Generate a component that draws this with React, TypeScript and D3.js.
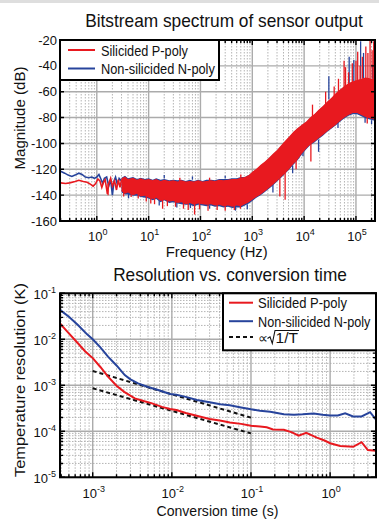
import { useRef, useEffect } from 'react';
import * as d3 from 'd3';

const W = 379;
const H = 519;
const RED = '#e8191f';
const BLUE = '#27449c';
const GRID = '#ababab';
const FONT = '"Liberation Sans", Arial, Helvetica, sans-serif';

// ---------- top chart: bitstream spectrum ----------
const FREQ_TICKS = [1, 10, 100, 1000, 10000, 100000];
const FREQ_EXP = ['0', '1', '2', '3', '4', '5'];
const MAG_TICKS = [-20, -40, -60, -80, -100, -120, -140, -160];

// thin part of the spectra below ~3 Hz
const lowRedF = [0.2, 0.25, 0.3, 0.38, 0.45, 0.55, 0.65, 0.75, 0.85, 0.95, 1.05, 1.15, 1.25, 1.35, 1.45, 1.6, 1.7, 1.85, 2.0, 2.2, 2.4, 2.6, 2.8, 3.0];
const lowRedDb = [-130.5, -131, -130.5, -129.5, -128.5, -129.5, -130, -131.5, -133, -131, -127.5, -129, -134, -130, -128, -139, -131, -127, -133, -129, -136, -128, -134, -128];
const lowBlueF = [0.2, 0.24, 0.28, 0.33, 0.38, 0.45, 0.52, 0.6, 0.7, 0.8, 0.9, 1.0, 1.1, 1.2, 1.3, 1.4, 1.55, 1.7, 1.85, 2.0, 2.15, 2.3, 2.5, 2.7, 3.0];
const lowBlueDb = [-121.5, -123, -124.5, -125.5, -124.5, -123, -124, -126, -126.5, -126, -127, -126, -124, -127.5, -131, -127, -126, -133, -128, -140, -129, -126, -132, -127, -129];

// dense noise band: upper / lower envelope
const bandF = [3, 3.5, 4, 5, 6, 7, 8.5, 10, 12, 14, 17, 20, 25, 30, 36, 43, 52, 62, 75, 90, 110, 130, 160, 190, 230, 280, 340, 410, 500, 600, 720, 860, 1000, 1200, 1450, 1750, 2100, 2500, 3000, 3600, 4300, 5200, 6200, 7500, 9000, 11000, 13000, 16000, 19000, 23000, 28000, 34000, 41000, 50000, 60000, 72000, 87000, 105000, 127000, 153000, 185000, 230000];
const redTop = [-127, -125.5, -127.5, -126.5, -128, -127, -128, -127.5, -128.5, -127.5, -129, -128, -129, -128.5, -129.5, -128.5, -129.5, -129, -129.5, -128.5, -129.5, -129, -128.5, -129, -128, -128.5, -128, -127.5, -127.5, -126.5, -126, -124.5, -122, -119.5, -116.5, -114, -111, -108, -105, -101.5, -98, -94.5, -91, -88, -85.5, -83, -80, -77, -74, -71, -67.5, -64.5, -61, -58, -55.5, -53.5, -52, -51, -50, -49, -49.5, -50.5];
const redBot = [-137, -139, -138, -140, -139, -141, -140.5, -142, -143, -142, -144.5, -143.5, -145, -144.5, -146, -145.5, -147, -146, -147.5, -146.5, -147, -147.5, -147, -148, -147.5, -148.5, -148, -149, -148, -148.5, -147, -145.5, -143.5, -141.5, -139.5, -137, -134.5, -132, -129, -126, -123, -119.5, -116, -112.5, -108, -104, -101, -98.5, -96, -93.5, -90.5, -88, -85.5, -82.5, -80, -78, -76.5, -76.5, -78, -79.5, -80.5, -81.5];
const blueTop = [-126.5, -125, -127, -126, -127.5, -126.5, -127.5, -127, -128, -127, -128, -127.5, -128.5, -128, -128.5, -128, -129, -128, -129, -128, -129, -128, -128, -128.5, -127.5, -127.5, -127.5, -127, -127, -126, -126, -124.5, -122.5, -120, -117, -114.5, -111.5, -108.5, -105.5, -102, -98.5, -95, -91.5, -88.5, -86, -83.5, -80.5, -77.5, -74.5, -71.5, -68, -65, -61.5, -58.5, -56, -54, -52.5, -51.5, -50.5, -49.5, -50, -51];
const blueBot = [-138, -139.5, -139.5, -140.5, -140.5, -141.5, -142, -142.5, -144, -143, -145.5, -144, -146, -145.5, -146.5, -147, -147.5, -147.5, -148.5, -147.5, -148, -148.5, -148, -149, -148.5, -149.5, -149, -150, -149.5, -149.5, -148, -146.5, -144.5, -142, -140, -137.5, -135, -132.5, -129.5, -126.5, -123.5, -120, -116.5, -113, -108.5, -104.5, -101.5, -99, -96.5, -94, -91, -88.5, -86, -83, -80.5, -78.5, -77.5, -77.5, -79, -80.5, -81.5, -82.5];

// single noise spikes: [frequency, from dB, to dB]
const redSpikes: [number, number, number][] = [
  [1.65, -131, -140], [3.3, -135, -141], [4.6, -136, -141.5], [6.3, -138, -142.5], [9, -140, -145],
  [11, -141, -146.5], [13, -141, -147], [18.6, -143, -150.5], [23, -144, -148.5], [33, -144, -149],
  [47, -145, -150.5], [58, -146, -151.5], [77, -146, -155], [96, -146, -151], [140, -147, -152],
  [210, -147, -151.5], [300, -148, -152], [450, -148, -151.5], [590, -148, -150.5], [3400, -127, -141],
  [4300, -122, -143.5], [7000, -112, -120], [13500, -100, -114], [165000, -79, -84.5],
  [40, -129, -126.5], [150, -129, -126.5], [600, -127, -124], [14500, -80, -70], [26000, -70, -60],
  [38000, -64, -56], [46000, -62, -50], [59000, -57, -36], [63000, -57, -41], [72000, -55, -45],
  [85000, -53, -38], [100000, -52, -36], [108000, -52, -29], [120000, -51, -40], [133000, -50, -33],
  [155000, -50, -25], [170000, -50, -30], [187000, -50, -20], [205000, -50, -28], [220000, -51, -21],
];
const blueSpikes: [number, number, number][] = [
  [4.1, -138, -142.5], [16, -144, -148], [35, -146, -149.5], [64, -147, -150], [150, -148, -150.5],
  [473, -149, -152], [800, -147, -151], [2500, -132, -138], [6000, -117, -123], [9500, -106, -110],
  [19000, -97, -106.5], [45000, -84, -88], [150000, -80, -84], [200000, -82, -85],
  [20, -127, -124.5], [70, -128, -125.5], [300, -127, -125],
  [30000, -66, -48], [74000, -54, -33], [91000, -52, -35.5], [123000, -50, -21], [140000, -50, -30],
  [210000, -50, -39],
];

// ---------- bottom chart: resolution vs conversion time ----------
const TIME_TICKS = [1e-3, 1e-2, 1e-1, 1];
const TIME_EXP = ['-3', '-2', '-1', '0'];
const RES_TICKS = [1e-1, 1e-2, 1e-3, 1e-4, 1e-5];
const RES_EXP = ['-1', '-2', '-3', '-4', '-5'];

const tRed = [3.9e-4, 5e-4, 6.5e-4, 8e-4, 1e-3, 1.25e-3, 1.56e-3, 2e-3, 2.5e-3, 3.4e-3, 4.5e-3, 5.5e-3, 7.5e-3, 0.0095, 0.0114, 0.015, 0.02, 0.03, 0.042, 0.054, 0.075, 0.1, 0.13, 0.158, 0.19, 0.26, 0.33, 0.4, 0.5, 0.68, 0.85, 1.0, 1.34, 1.95, 2.5, 3.0, 3.8];
const resRed = [0.0215, 0.0135, 8.2e-3, 5.5e-3, 3.9e-3, 2.5e-3, 1.54e-3, 9.8e-4, 7.2e-4, 5.2e-4, 4.5e-4, 4.1e-4, 3.4e-4, 3.05e-4, 2.9e-4, 2.5e-4, 2.2e-4, 1.85e-4, 1.7e-4, 1.56e-4, 1.45e-4, 1.32e-4, 1.27e-4, 1.22e-4, 1.1e-4, 1.08e-4, 9.5e-5, 8.0e-5, 9.3e-5, 7.3e-5, 6.3e-5, 5.5e-5, 4.8e-5, 4.6e-5, 5.8e-5, 3.9e-5, 3.8e-5];
const tBlue = [3.9e-4, 5e-4, 6.5e-4, 8.5e-4, 1e-3, 1.25e-3, 1.56e-3, 2e-3, 2.54e-3, 3.0e-3, 3.74e-3, 5e-3, 6.7e-3, 0.0095, 0.0114, 0.015, 0.0207, 0.03, 0.041, 0.054, 0.075, 0.1, 0.13, 0.175, 0.26, 0.35, 0.45, 0.62, 0.8, 1.0, 1.25, 1.55, 1.95, 2.5, 3.2, 3.8];
const resBlue = [0.043, 0.031, 0.0205, 0.0128, 0.01, 6.7e-3, 4.2e-3, 2.7e-3, 1.67e-3, 1.35e-3, 1.1e-3, 9.2e-4, 7.9e-4, 6.5e-4, 6.2e-4, 5.6e-4, 4.8e-4, 4.3e-4, 3.87e-4, 3.7e-4, 3.3e-4, 3.0e-4, 2.8e-4, 2.67e-4, 2.34e-4, 2.3e-4, 2.35e-4, 2.45e-4, 2.3e-4, 2.2e-4, 2.2e-4, 2.45e-4, 2.1e-4, 2.1e-4, 2.6e-4, 1.8e-4];
const fitT = [1e-3, 0.1];
const fitUpper = [2.05e-3, 1.98e-4];
const fitLower = [8.6e-4, 9.0e-5];

type Sel = d3.Selection<SVGGElement, unknown, null, undefined>;

function supLabel(g: Sel, x: number, y: number, exp: string, anchor: string) {
  const t = g.append('text')
    .attr('x', x).attr('y', y)
    .attr('text-anchor', anchor)
    .attr('font-size', 13)
    .attr('font-family', FONT)
    .attr('fill', '#111');
  t.append('tspan').text('10');
  t.append('tspan').attr('dy', -6).attr('font-size', 9).text(exp);
}

// text squeezed horizontally to a target width (the original font is narrow)
function narrowText(g: Sel, x: number, y: number, label: string, size: number, width: number, rotate = false, anchor = 'start') {
  const t = g.append('text')
    .attr('font-size', size).attr('font-family', FONT).attr('fill', '#111')
    .attr('text-anchor', anchor)
    .text(label);
  const natural = (t.node() as SVGTextElement).getComputedTextLength() || width;
  const k = width / natural;
  t.attr('transform', `translate(${x},${y})${rotate ? ' rotate(-90)' : ''} scale(${k},1)`);
}

function isDecade(v: number) {
  return Math.abs(Math.log10(v) - Math.round(Math.log10(v))) < 1e-6;
}

export default function App() {
  const svgRef = useRef<SVGSVGElement>(null);

  useEffect(() => {
    if (!svgRef.current) return;
    const svg = d3.select(svgRef.current);
    svg.selectAll('*').remove();

    svg.append('rect').attr('width', W).attr('height', H).attr('fill', '#fff');
    svg.append('rect').attr('width', W).attr('height', 3).attr('fill', '#dedede');

    const defs = svg.append('defs');

    // ===================== top chart =====================
    const A = { l: 60, r: 375, t: 40, b: 221 };
    const fx = d3.scaleLog().domain([0.195, 2.33e5]).range([A.l, A.r]);
    const fy = d3.scaleLinear().domain([-160, -20]).range([A.b, A.t]);
    const gA = svg.append('g');

    defs.append('clipPath').attr('id', 'clipA')
      .append('rect').attr('x', A.l).attr('y', A.t).attr('width', A.r - A.l).attr('height', A.b - A.t);

    const fTicks = fx.ticks();
    // grid
    gA.selectAll('.vminor').data(fTicks.filter((d) => !isDecade(d))).enter().append('line')
      .attr('x1', (d) => fx(d)).attr('x2', (d) => fx(d)).attr('y1', A.t).attr('y2', A.b)
      .attr('stroke', GRID).attr('stroke-width', 0.9).attr('stroke-dasharray', '1.5,1.5');
    gA.selectAll('.vmajor').data(FREQ_TICKS).enter().append('line')
      .attr('x1', (d) => fx(d)).attr('x2', (d) => fx(d)).attr('y1', A.t).attr('y2', A.b)
      .attr('stroke', GRID).attr('stroke-width', 1.4);
    gA.selectAll('.hmajor').data(MAG_TICKS).enter().append('line')
      .attr('x1', A.l).attr('x2', A.r).attr('y1', (d) => fy(d)).attr('y2', (d) => fy(d))
      .attr('stroke', GRID).attr('stroke-width', 1.4);

    const data = gA.append('g').attr('clip-path', 'url(#clipA)');
    const idx = d3.range(bandF.length);
    const band = (top: number[], bot: number[]) =>
      d3.area<number>().x((i) => fx(bandF[i])).y0((i) => fy(bot[i])).y1((i) => fy(top[i]))(idx);
    const lowLine = (f: number[], v: number[]) =>
      d3.line<number>().x((i) => fx(f[i])).y((i) => fy(v[i]))(d3.range(f.length));

    // blue first (mostly hidden), red on top
    data.append('path').attr('d', lowLine(lowBlueF, lowBlueDb)).attr('fill', 'none')
      .attr('stroke', BLUE).attr('stroke-width', 1.6);
    data.append('path').attr('d', band(blueTop, blueBot)).attr('fill', BLUE);
    data.selectAll('.bspike').data(blueSpikes).enter().append('line')
      .attr('x1', (d) => fx(d[0])).attr('x2', (d) => fx(d[0]))
      .attr('y1', (d) => fy(d[1])).attr('y2', (d) => fy(d[2]))
      .attr('stroke', BLUE).attr('stroke-width', 1.3);
    data.append('path').attr('d', lowLine(lowRedF, lowRedDb)).attr('fill', 'none')
      .attr('stroke', RED).attr('stroke-width', 1.6);
    data.append('path').attr('d', band(redTop, redBot)).attr('fill', RED);
    data.selectAll('.rspike').data(redSpikes).enter().append('line')
      .attr('x1', (d) => fx(d[0])).attr('x2', (d) => fx(d[0]))
      .attr('y1', (d) => fy(d[1])).attr('y2', (d) => fy(d[2]))
      .attr('stroke', RED).attr('stroke-width', 1.3);

    // frame + ticks
    gA.append('rect').attr('x', A.l).attr('y', A.t).attr('width', A.r - A.l).attr('height', A.b - A.t)
      .attr('fill', 'none').attr('stroke', '#000').attr('stroke-width', 2);
    gA.selectAll('.xt').data(fTicks).enter().append('path')
      .attr('d', (d) => {
        const len = isDecade(d) ? 5 : 3;
        const x = fx(d);
        return `M${x},${A.b}v${-len}M${x},${A.t}v${len}`;
      })
      .attr('stroke', '#000').attr('stroke-width', 1.4);
    gA.selectAll('.yt').data(MAG_TICKS).enter().append('path')
      .attr('d', (d) => `M${A.l},${fy(d)}h4M${A.r},${fy(d)}h-4`)
      .attr('stroke', '#000').attr('stroke-width', 1.4);

    // labels
    FREQ_TICKS.forEach((f, i) => supLabel(gA, fx(f) + 1, 240.5, FREQ_EXP[i], 'middle'));
    gA.selectAll('.ylab').data(MAG_TICKS).enter().append('text')
      .attr('x', 57).attr('y', (d) => fy(d) + 4.5)
      .attr('text-anchor', 'end').attr('font-size', 13).attr('font-family', FONT).attr('fill', '#111')
      .text((d) => d);
    narrowText(gA, 224, 27, 'Bitstream spectrum of sensor output', 18, 278, false, 'middle');
    narrowText(gA, 216.7, 256.5, 'Frequency (Hz)', 15, 102, false, 'middle');
    narrowText(gA, 24.5, 118, 'Magnitude (dB)', 15.5, 103, true, 'middle');

    // legend
    const legA = gA.append('g');
    legA.append('rect').attr('x', A.l).attr('y', A.t).attr('width', 159).attr('height', 40)
      .attr('fill', '#fff').attr('stroke', '#000').attr('stroke-width', 2);
    [
      { c: RED, label: 'Silicided P-poly', y: 50, w: 87 },
      { c: BLUE, label: 'Non-silicided N-poly', y: 68.5, w: 114 },
    ].forEach((e) => {
      legA.append('line').attr('x1', 68).attr('x2', 95).attr('y1', e.y).attr('y2', e.y)
        .attr('stroke', e.c).attr('stroke-width', 2);
      narrowText(legA, 101, e.y + 5.5, e.label, 15, e.w);
    });

    // ===================== bottom chart =====================
    const B = { l: 60, r: 376, t: 293.3, b: 477.3 };
    const tx = d3.scaleLog().domain([3.86e-4, 3.8]).range([B.l, B.r]);
    const ty = d3.scaleLog().domain([1e-5, 1e-1]).range([B.b, B.t]);
    const gB = svg.append('g');

    defs.append('clipPath').attr('id', 'clipB')
      .append('rect').attr('x', B.l).attr('y', B.t).attr('width', B.r - B.l).attr('height', B.b - B.t);

    const tTicks = tx.ticks();
    const rTicks = ty.ticks();
    gB.selectAll('.vminor').data(tTicks.filter((d) => !isDecade(d))).enter().append('line')
      .attr('x1', (d) => tx(d)).attr('x2', (d) => tx(d)).attr('y1', B.t).attr('y2', B.b)
      .attr('stroke', GRID).attr('stroke-width', 0.9).attr('stroke-dasharray', '1.5,1.5');
    gB.selectAll('.hminor').data(rTicks.filter((d) => !isDecade(d))).enter().append('line')
      .attr('x1', B.l).attr('x2', B.r).attr('y1', (d) => ty(d)).attr('y2', (d) => ty(d))
      .attr('stroke', GRID).attr('stroke-width', 0.9).attr('stroke-dasharray', '1.5,1.5');
    gB.selectAll('.vmajor').data(TIME_TICKS).enter().append('line')
      .attr('x1', (d) => tx(d)).attr('x2', (d) => tx(d)).attr('y1', B.t).attr('y2', B.b)
      .attr('stroke', GRID).attr('stroke-width', 1.4);
    gB.selectAll('.hmajor').data(RES_TICKS).enter().append('line')
      .attr('x1', B.l).attr('x2', B.r).attr('y1', (d) => ty(d)).attr('y2', (d) => ty(d))
      .attr('stroke', GRID).attr('stroke-width', 1.4);

    const dataB = gB.append('g').attr('clip-path', 'url(#clipB)');
    const curve = (t: number[], v: number[]) =>
      d3.line<number>().x((i) => tx(t[i])).y((i) => ty(v[i]))(d3.range(t.length));
    dataB.append('path').attr('d', curve(fitT, fitUpper)).attr('fill', 'none')
      .attr('stroke', '#111').attr('stroke-width', 2).attr('stroke-dasharray', '4,3');
    dataB.append('path').attr('d', curve(fitT, fitLower)).attr('fill', 'none')
      .attr('stroke', '#111').attr('stroke-width', 2).attr('stroke-dasharray', '4,3');
    dataB.append('path').attr('d', curve(tBlue, resBlue)).attr('fill', 'none')
      .attr('stroke', BLUE).attr('stroke-width', 2);
    dataB.append('path').attr('d', curve(tRed, resRed)).attr('fill', 'none')
      .attr('stroke', RED).attr('stroke-width', 2);

    gB.append('rect').attr('x', B.l).attr('y', B.t).attr('width', B.r - B.l).attr('height', B.b - B.t)
      .attr('fill', 'none').attr('stroke', '#000').attr('stroke-width', 2);
    gB.selectAll('.xt').data(tTicks).enter().append('path')
      .attr('d', (d) => {
        const len = isDecade(d) ? 5 : 3;
        const x = tx(d);
        return `M${x},${B.b}v${-len}M${x},${B.t}v${len}`;
      })
      .attr('stroke', '#000').attr('stroke-width', 1.4);
    gB.selectAll('.yt').data(rTicks).enter().append('path')
      .attr('d', (d) => {
        const len = isDecade(d) ? 5 : 3;
        const y = ty(d);
        return `M${B.l},${y}h${len}M${B.r},${y}h${-len}`;
      })
      .attr('stroke', '#000').attr('stroke-width', 1.4);

    TIME_TICKS.forEach((t, i) => supLabel(gB, tx(t) + 1, 498, TIME_EXP[i], 'middle'));
    RES_TICKS.forEach((r, i) => supLabel(gB, 56, ty(r) + 6, RES_EXP[i], 'end'));
    narrowText(gB, 230, 281, 'Resolution vs. conversion time', 17.5, 234, false, 'middle');
    narrowText(gB, 217.5, 515.5, 'Conversion time (s)', 15.5, 122, false, 'middle');
    narrowText(gB, 24.5, 380, 'Temperature resolution (K)', 15.5, 194, true, 'middle');

    // legend
    const legB = gB.append('g');
    legB.append('rect').attr('x', 223).attr('y', B.t).attr('width', B.r - 223).attr('height', 57)
      .attr('fill', '#fff').attr('stroke', '#000').attr('stroke-width', 2);
    [
      { c: RED, label: 'Silicided P-poly', y: 302.7, w: 89 },
      { c: BLUE, label: 'Non-silicided N-poly', y: 321.2, w: 112.5 },
    ].forEach((e) => {
      legB.append('line').attr('x1', 229).attr('x2', 253).attr('y1', e.y).attr('y2', e.y)
        .attr('stroke', e.c).attr('stroke-width', 2);
      narrowText(legB, 258, e.y + 5.5, e.label, 15, e.w);
    });
    legB.append('line').attr('x1', 229).attr('x2', 253).attr('y1', 337).attr('y2', 337)
      .attr('stroke', '#111').attr('stroke-width', 2).attr('stroke-dasharray', '4,3');
    legB.append('text').attr('x', 258).attr('y', 342.5)
      .attr('font-size', 14).attr('font-family', FONT).attr('fill', '#111').text('\u221D');
    legB.append('path').attr('d', 'M267.5,338.5 L270,336.8 L272.3,343.5 L275,330.5 L299,330.5')
      .attr('fill', 'none').attr('stroke', '#111').attr('stroke-width', 1.1);
    narrowText(legB, 275.5, 343, '1/T', 14, 22.5);
  }, []);

  return (
    <svg
      ref={svgRef}
      width={W}
      height={H}
      style={{ position: 'absolute', left: 0, top: 0, display: 'block' }}
    />
  );
}
